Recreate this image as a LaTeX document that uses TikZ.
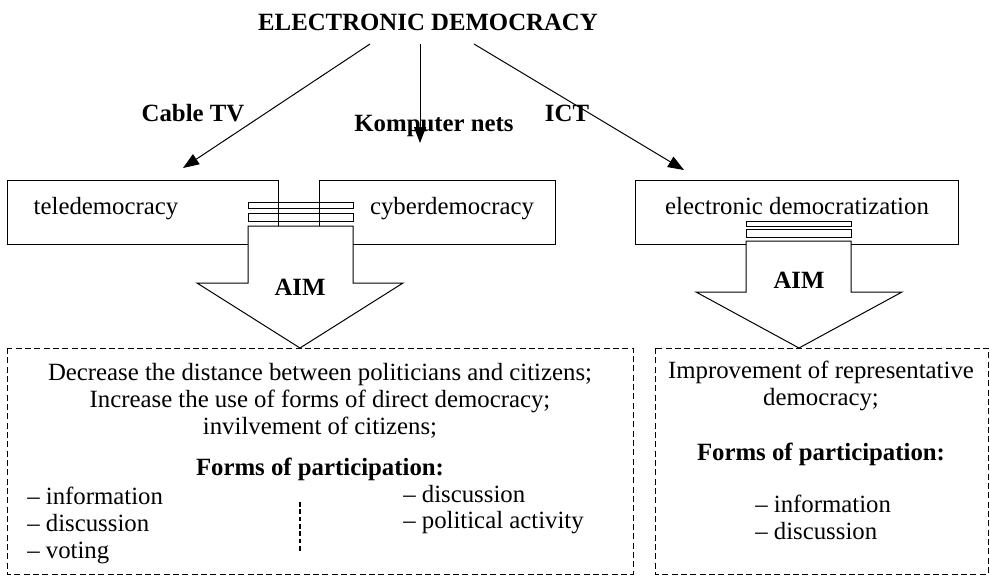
\documentclass[tikz,border=0pt]{standalone}
\usepackage{fontspec}
\setmainfont{Liberation Serif}
\usetikzlibrary{arrows.meta}

\tikzset{
  txt/.style={inner sep=0pt, anchor=base, font=\fontsize{18.6}{21}\selectfont},
  btxt/.style={txt, font=\fontsize{18.6}{21}\selectfont\bfseries},
  feed/.style={-{Triangle[length=12pt,width=9pt]}, line width=0.75pt},
  aimbox/.style={dash pattern=on 4.5pt off 2.5pt, line width=0.75pt},
  plate/.style={line width=0.75pt},
}

\begin{document}
\begin{tikzpicture}[x=0.75pt,y=0.75pt,yscale=-1,xscale=1]
        \useasboundingbox (0,0) rectangle (990,576);

        % Text Node
        \node[btxt] (title) at (428,30) {ELECTRONIC DEMOCRACY};

        %Straight Lines: three channels down to the boxes
        \coordinate (cabfrom) at (370,44);
        \coordinate (cabto) at (183,168);
        \coordinate (netfrom) at (420,44);
        \coordinate (netto) at (420,143);
        \coordinate (ictfrom) at (474,44);
        \coordinate (ictto) at (684,170);
        \draw[feed] (cabfrom) -- (cabto);
        \draw[feed] (netfrom) -- (netto);
        \draw[feed] (ictfrom) -- (ictto);
        \node[btxt] (cable) at (193,121) {Cable TV};
        \node[btxt] (komp) at (434,131) {Komputer nets};
        \node[btxt] (ict) at (567,121) {ICT};

        %Shape: Rectangle, left pair
        \draw[plate] (248,244) -- (7,244) -- (7,180) -- (278,180) -- (278,226);
        \draw[plate] (319,226) -- (319,180) -- (555,180) -- (555,244) -- (353,244);
        \draw[plate] (248,202) rectangle (353,208);
        \draw[plate] (248,213) rectangle (353,221);
        \node[txt] (tele) at (106,214) {teledemocracy};
        \node[txt] (cyber) at (452,214) {cyberdemocracy};

        %Shape: Rectangle, right
        \draw[plate] (635,180) rectangle (958,244);
        \draw[plate] (746,221) rectangle (851,226);
        \draw[plate] (746,229) rectangle (851,237);
        \node[txt] (edem) at (797,214) {electronic democratization};

        %Shape: Down Arrow, left
        \draw[plate, fill=white] (248,226) -- (248,283) -- (197,283) -- (300,348) -- (403,283) -- (353,283) -- (353,226) -- cycle;
        \node[btxt] (aimleft) at (300,295) {AIM};

        %Shape: Down Arrow, right
        \draw[plate, fill=white] (746,241) -- (746,292) -- (696,292) -- (799,348) -- (902,292) -- (851,292) -- (851,241) -- cycle;
        \node[btxt] (aimright) at (799,288) {AIM};

        %Shape: Rectangle, dashed
        \draw[aimbox] (7,348) rectangle (633,574);
        \draw[aimbox] (655,348) rectangle (988,574);

        % Text Node, left aims
        \node[txt] (lineone) at (320,380) {Decrease the distance between politicians and citizens;};
        \node[txt] (linetwo) at (320,407) {Increase the use of forms of direct democracy;};
        \node[txt] (linethree) at (320,434) {invilvement of citizens;};
        \node[btxt] (formsleft) at (320,475) {Forms of participation:};
        \node[txt, anchor=base west] (linfo) at (27,504) {-- information};
        \node[txt, anchor=base west] (ldisc) at (27,531) {-- discussion};
        \node[txt, anchor=base west] (lvote) at (27,558) {-- voting};
        \draw[line width=2pt, dash pattern=on 3.5pt off 2pt] (300,502) -- (300,553);
        \node[txt, anchor=base west] (mdisc) at (403,502) {-- discussion};
        \node[txt, anchor=base west] (mpol) at (403,528) {-- political activity};

        % Text Node, right aims
        \node[txt] (rone) at (821,378) {Improvement of representative};
        \node[txt] (rtwo) at (821,405) {democracy;};
        \node[btxt] (formsright) at (821,460) {Forms of participation:};
        \node[txt, anchor=base west] (rinfo) at (755,512) {-- information};
        \node[txt, anchor=base west] (rdisc) at (755,539) {-- discussion};
\end{tikzpicture}
\end{document}
